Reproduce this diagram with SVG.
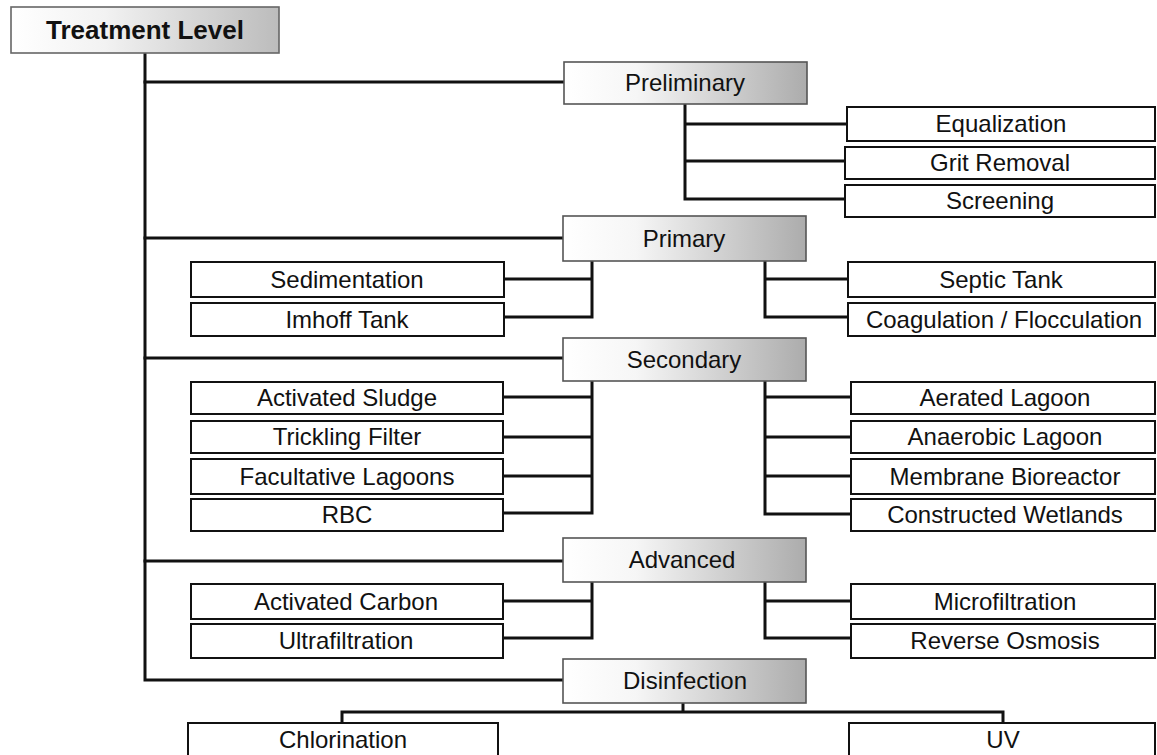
<svg xmlns="http://www.w3.org/2000/svg" width="1157" height="755" viewBox="0 0 1157 755">
<defs>
<linearGradient id="gCat" x1="0" y1="0" x2="1" y2="0">
<stop offset="0" stop-color="#ffffff"/>
<stop offset="0.3" stop-color="#f6f6f6"/>
<stop offset="1" stop-color="#acacac"/>
</linearGradient>
<linearGradient id="gTop" x1="0" y1="0" x2="1" y2="0">
<stop offset="0" stop-color="#ffffff"/>
<stop offset="0.35" stop-color="#f2f2f2"/>
<stop offset="1" stop-color="#bcbcbc"/>
</linearGradient>
</defs>
<style>
.cat{fill:url(#gCat);stroke:#555;stroke-width:1.6}
.top{fill:url(#gTop);stroke:#666;stroke-width:1.6}
.leaf{fill:#fff;stroke:#111;stroke-width:2}
.t{font-family:"Liberation Sans",Arial,sans-serif;font-size:24px;fill:#111;text-anchor:middle}
.tb{font-family:"Liberation Sans",Arial,sans-serif;font-size:26px;font-weight:bold;fill:#111;text-anchor:middle}
.c{fill:none;stroke:#111;stroke-width:3;stroke-linecap:square;stroke-linejoin:miter}
</style>
<rect width="1157" height="755" fill="#fff"/>
<g id="connectors">
<path class="c" d="M145 53V680H563"/>
<path class="c" d="M145 82H564M145 238H563M145 358H563M145 561H563"/>
<path class="c" d="M685 104V199H845M685 124H846M685 161H845"/>
<path class="c" d="M592 261V317H504M592 279H504M765 261V317H847M765 279H847"/>
<path class="c" d="M592 381V513H503M592 397H503M592 437H503M592 476H503M765 381V514H850M765 397H850M765 437H850M765 476H850"/>
<path class="c" d="M592 582V638H503M592 601H503M765 582V638H850M765 601H850"/>
<path class="c" d="M683 703V712M342 723V712H1003V723"/>
</g>
<g id="treatment-level"><rect class="top" x="11" y="7" width="268" height="46"/><text class="tb" x="145" y="39">Treatment Level</text></g>
<g id="preliminary"><rect class="cat" x="564" y="62" width="243" height="42"/><text class="t" x="685" y="91">Preliminary</text></g>
<g id="equalization"><rect class="leaf" x="847" y="107" width="308" height="34"/><text class="t" x="1001" y="132">Equalization</text></g>
<g id="grit-removal"><rect class="leaf" x="845" y="147" width="310" height="32"/><text class="t" x="1000" y="171">Grit Removal</text></g>
<g id="screening"><rect class="leaf" x="845" y="185" width="310" height="32"/><text class="t" x="1000" y="209">Screening</text></g>
<g id="primary"><rect class="cat" x="563" y="216" width="243" height="45"/><text class="t" x="684" y="247">Primary</text></g>
<g id="sedimentation"><rect class="leaf" x="191" y="262" width="313" height="35"/><text class="t" x="347" y="288">Sedimentation</text></g>
<g id="imhoff-tank"><rect class="leaf" x="191" y="303" width="313" height="33"/><text class="t" x="347" y="328">Imhoff Tank</text></g>
<g id="septic-tank"><rect class="leaf" x="848" y="262" width="307" height="35"/><text class="t" x="1001" y="288">Septic Tank</text></g>
<g id="coagulation"><rect class="leaf" x="848" y="303" width="307" height="33"/><text class="t" x="1004" y="328">Coagulation / Flocculation</text></g>
<g id="secondary"><rect class="cat" x="563" y="338" width="243" height="43"/><text class="t" x="684" y="368">Secondary</text></g>
<g id="activated-sludge"><rect class="leaf" x="191" y="382" width="312" height="32"/><text class="t" x="347" y="406">Activated Sludge</text></g>
<g id="trickling-filter"><rect class="leaf" x="191" y="421" width="312" height="32"/><text class="t" x="347" y="445">Trickling Filter</text></g>
<g id="facultative-lagoons"><rect class="leaf" x="191" y="459" width="312" height="35"/><text class="t" x="347" y="485">Facultative Lagoons</text></g>
<g id="rbc"><rect class="leaf" x="191" y="499" width="312" height="32"/><text class="t" x="347" y="523">RBC</text></g>
<g id="aerated-lagoon"><rect class="leaf" x="851" y="382" width="304" height="32"/><text class="t" x="1005" y="406">Aerated Lagoon</text></g>
<g id="anaerobic-lagoon"><rect class="leaf" x="851" y="421" width="304" height="32"/><text class="t" x="1005" y="445">Anaerobic Lagoon</text></g>
<g id="membrane-bioreactor"><rect class="leaf" x="851" y="459" width="304" height="35"/><text class="t" x="1005" y="485">Membrane Bioreactor</text></g>
<g id="constructed-wetlands"><rect class="leaf" x="851" y="499" width="304" height="32"/><text class="t" x="1005" y="523">Constructed Wetlands</text></g>
<g id="advanced"><rect class="cat" x="563" y="538" width="243" height="44"/><text class="t" x="682" y="568">Advanced</text></g>
<g id="activated-carbon"><rect class="leaf" x="191" y="584" width="312" height="35"/><text class="t" x="346" y="610">Activated Carbon</text></g>
<g id="ultrafiltration"><rect class="leaf" x="191" y="624" width="312" height="34"/><text class="t" x="346" y="649">Ultrafiltration</text></g>
<g id="microfiltration"><rect class="leaf" x="851" y="584" width="304" height="35"/><text class="t" x="1005" y="610">Microfiltration</text></g>
<g id="reverse-osmosis"><rect class="leaf" x="851" y="624" width="304" height="34"/><text class="t" x="1005" y="649">Reverse Osmosis</text></g>
<g id="disinfection"><rect class="cat" x="563" y="659" width="243" height="44"/><text class="t" x="685" y="689">Disinfection</text></g>
<g id="chlorination"><rect class="leaf" x="188" y="723" width="310" height="40"/><text class="t" x="343" y="748">Chlorination</text></g>
<g id="uv"><rect class="leaf" x="849" y="723" width="306" height="40"/><text class="t" x="1003" y="748">UV</text></g>
</svg>
